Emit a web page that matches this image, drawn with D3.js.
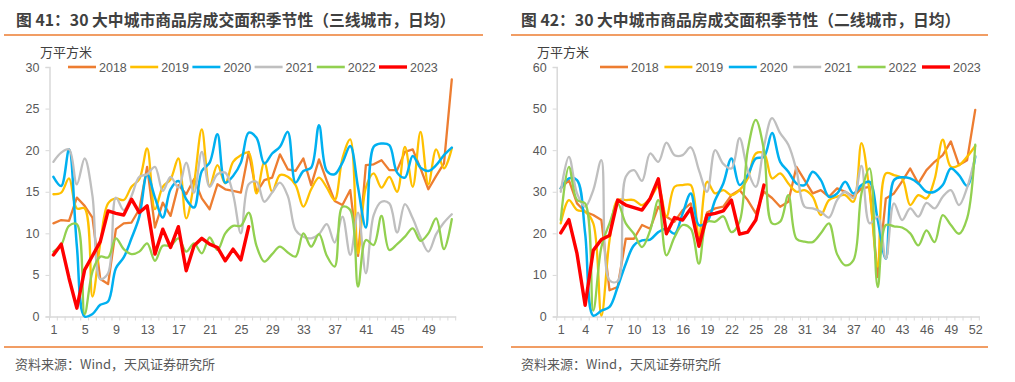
<!DOCTYPE html>
<html>
<head>
<meta charset="utf-8">
<script src="https://cdn.jsdelivr.net/npm/d3@7/dist/d3.min.js"></script>
<style>
  html, body { margin: 0; padding: 0; background: #fff; }
  svg { display: block; }
</style>
</head>
<body>
<svg id="chart" width="1015" height="382"></svg>
<script>
// ---------------- DATA ----------------
const years = ["2018", "2019", "2020", "2021", "2022", "2023"];
const weeks = d3.range(1, 53);

// Left panel: 三线城市 (万平方米, 日均)
const left2018 = [11.2, 11.6, 11.5, 14.3, 13.3, 11.9, 4.5, 3.9, 10.5, 11.2, 11.3, 12.9, 18.0, 10.7, 13.7, 12.1, 15.8, 14.7, 16.5, 14.2, 12.9, 15.9, 15.3, 15.1, 14.9, 19.8, 14.9, 16.4, 16.7, 19.5, 17.7, 17.5, 19.0, 15.8, 18.9, 16.3, 13.9, 13.4, 15.2, 7.3, 18.2, 18.3, 18.8, 17.6, 17.6, 19.8, 20.1, 17.8, 15.3, 16.9, 18.4, 28.5];
const left2019 = [14.7, 14.9, 16.6, 13.0, 13.0, 2.4, 8.8, 13.6, 14.2, 14.0, 15.6, 16.5, 20.2, 12.9, 15.6, 16.5, 19.0, 11.8, 16.0, 22.5, 15.7, 18.2, 16.0, 18.6, 19.4, 19.7, 14.8, 18.5, 15.0, 17.0, 16.8, 15.8, 13.2, 15.3, 16.7, 15.5, 14.0, 19.0, 21.3, 7.6, 15.5, 17.2, 15.5, 16.8, 15.0, 20.4, 15.6, 22.2, 15.9, 20.1, 17.8, 20.2];
const left2020 = [16.8, 15.7, 20.1, 8.5, 0.0, 0.3, 1.4, 1.8, 5.8, 7.1, 9.4, 12.0, 17.1, 14.3, 11.9, 15.3, 16.3, 14.1, 13.1, 17.5, 18.5, 21.9, 16.1, 16.9, 18.5, 22.1, 21.5, 18.4, 19.6, 20.4, 22.2, 16.1, 17.5, 17.9, 23.0, 17.5, 17.1, 18.5, 20.5, 15.5, 10.7, 20.4, 20.8, 20.6, 17.3, 16.7, 19.3, 17.9, 17.5, 18.2, 19.4, 20.3];
const left2021 = [18.6, 19.7, 20.1, 15.9, 19.0, 14.5, 4.5, 5.2, 14.3, 12.8, 14.5, 16.8, 17.1, 18.0, 15.1, 16.8, 15.5, 18.5, 14.9, 19.8, 15.6, 17.1, 17.3, 14.7, 10.0, 15.9, 16.2, 13.8, 14.9, 16.1, 14.5, 10.4, 9.6, 9.4, 9.9, 11.1, 8.9, 12.0, 7.4, 12.5, 5.2, 12.2, 13.8, 13.6, 10.1, 13.5, 11.8, 9.5, 7.8, 9.9, 11.3, 12.3];
const left2022 = [7.8, 8.6, 10.9, 11.1, 0.3, 5.4, 7.2, 7.1, 9.4, 8.1, 7.5, 7.8, 8.8, 6.7, 8.5, 8.5, 9.4, 7.8, 8.8, 7.6, 9.5, 8.0, 10.0, 10.9, 10.9, 12.5, 8.5, 6.6, 7.5, 8.4, 7.7, 7.2, 10.0, 8.4, 9.9, 7.3, 6.0, 13.2, 12.8, 3.6, 9.2, 8.6, 12.1, 8.0, 8.7, 9.6, 10.6, 9.1, 10.0, 11.8, 8.1, 11.7];
const left2023 = [7.4, 8.7, 4.6, 1.0, 5.6, 7.3, 9.0, 12.7, 12.4, 12.2, 14.1, 12.5, 13.3, 7.5, 10.5, 8.3, 10.8, 5.5, 8.5, 9.4, 8.7, 8.3, 6.7, 8.1, 6.8, 10.8];

// Right panel: 二线城市 (万平方米, 日均)
const right2018 = [30.8, 32.8, 27.2, 25.2, 24.4, 23.2, 6.3, 7.1, 18.7, 18.7, 22.0, 21.1, 26.4, 24.0, 22.8, 25.6, 27.2, 18.3, 25.0, 26.0, 26.4, 29.2, 30.4, 28.0, 24.8, 30.0, 28.5, 26.4, 27.6, 36.0, 32.8, 29.6, 30.4, 28.8, 30.8, 30.0, 28.8, 30.8, 31.2, 9.5, 28.4, 29.6, 32.5, 35.6, 32.0, 35.2, 37.2, 38.8, 42.1, 36.4, 37.6, 49.7];
const right2019 = [22.4, 28.0, 25.6, 25.2, 22.4, 0.2, 18.3, 28.0, 28.0, 28.0, 26.8, 28.4, 31.2, 24.0, 31.2, 31.6, 31.6, 19.5, 32.4, 29.6, 30.4, 29.2, 30.4, 33.2, 39.2, 39.2, 33.2, 34.4, 32.0, 30.0, 30.4, 28.8, 24.4, 28.0, 28.8, 29.2, 27.6, 41.7, 30.0, 12.0, 34.4, 34.0, 33.2, 26.8, 29.2, 28.4, 33.0, 42.5, 36.0, 36.4, 38.4, 41.0];
const right2020 = [30.8, 33.2, 32.8, 20.0, 0.2, 1.4, 2.3, 7.1, 12.7, 17.1, 18.3, 18.5, 20.3, 21.1, 19.9, 24.8, 29.6, 22.0, 22.8, 28.0, 32.0, 38.0, 31.6, 34.0, 38.0, 38.4, 44.1, 37.2, 34.8, 32.0, 31.6, 34.8, 32.8, 28.8, 29.6, 32.4, 29.6, 31.6, 32.4, 23.2, 13.9, 32.8, 33.5, 33.2, 32.0, 30.0, 30.0, 31.6, 35.6, 34.0, 31.4, 38.4];
const right2021 = [30.0, 38.4, 29.6, 26.4, 30.4, 37.6, 8.7, 8.5, 33.6, 35.2, 32.6, 39.2, 37.2, 41.8, 38.8, 38.8, 40.7, 35.2, 30.0, 40.0, 36.7, 35.6, 42.9, 35.2, 31.2, 40.9, 47.7, 44.1, 41.3, 35.2, 26.4, 26.0, 25.2, 23.8, 28.0, 30.0, 28.5, 36.2, 22.4, 24.0, 13.9, 27.2, 23.2, 26.0, 24.0, 27.3, 26.0, 28.8, 30.4, 26.8, 31.0, 38.6];
const right2022 = [23.2, 36.0, 28.0, 27.2, 1.4, 16.7, 22.4, 27.2, 22.4, 19.9, 16.7, 20.7, 28.0, 14.7, 19.1, 22.0, 21.1, 12.7, 22.8, 22.8, 24.1, 20.3, 22.8, 40.0, 47.3, 40.0, 22.4, 22.8, 29.2, 18.7, 18.0, 17.9, 20.0, 22.4, 15.0, 12.3, 13.5, 29.6, 35.6, 7.1, 22.0, 21.7, 21.4, 20.0, 17.1, 20.7, 17.9, 24.4, 22.0, 19.9, 23.6, 41.3];
const right2023 = [20.1, 23.3, 15.1, 2.7, 15.9, 18.5, 19.5, 28.0, 26.8, 26.2, 25.6, 28.4, 33.1, 19.9, 23.8, 23.2, 26.0, 16.9, 24.4, 24.8, 25.4, 28.0, 19.8, 20.3, 23.2, 31.6];

const leftTicksY = [0, 5, 10, 15, 20, 25, 30];
const rightTicksY = [0, 10, 20, 30, 40, 50, 60];
const leftTickWeeks = [1, 5, 9, 13, 17, 21, 25, 29, 33, 37, 41, 45, 49];
const rightTickWeeks = [1, 4, 7, 10, 13, 16, 19, 22, 25, 28, 31, 34, 37, 40, 43, 46, 49, 52];

const leftTitle = "图 41：30 大中城市商品房成交面积季节性（三线城市，日均）";
const rightTitle = "图 42：30 大中城市商品房成交面积季节性（二线城市，日均）";
const unitLabel = "万平方米";
const sourceText = "资料来源：Wind，天风证券研究所";

// ---------------- STYLE ----------------
const colors = {"2018": "#ED7D31", "2019": "#FFC000", "2020": "#00B0F0", "2021": "#BFBFBF", "2022": "#92D050", "2023": "#FF0000"};
const smooth = {"2018": false, "2019": true, "2020": true, "2021": true, "2022": true, "2023": false};
const widths = {"2018": 2.3, "2019": 2.3, "2020": 2.5, "2021": 2.3, "2022": 2.3, "2023": 3.4};

const svg = d3.select("#chart");
const cjk = "'Noto Sans CJK SC', 'Noto Sans', sans-serif";
const num = "'Liberation Sans', Arial, 'Noto Sans CJK SC', sans-serif";

function panel(cfg) {
  const g = svg.append("g");
  // title
  g.append("text").attr("x", cfg.titleX).attr("y", 25.5)
    .attr("font-family", cjk).attr("font-weight", "bold").attr("font-size", 15.8)
    .attr("fill", "#404040").text(cfg.title);
  g.append("line").attr("x1", cfg.ruleX0).attr("x2", cfg.ruleX1).attr("y1", 35).attr("y2", 35)
    .attr("stroke", "#ED7D31").attr("stroke-width", 1.5);
  g.append("line").attr("x1", cfg.ruleX0).attr("x2", cfg.ruleX1).attr("y1", 347).attr("y2", 347)
    .attr("stroke", "#ED7D31").attr("stroke-width", 1.5);
  g.append("text").attr("x", cfg.sourceX).attr("y", 369)
    .attr("font-family", cjk).attr("font-size", 13).attr("fill", "#595959").text(sourceText);
  g.append("text").attr("x", cfg.unitX).attr("y", 57)
    .attr("font-family", cjk).attr("font-size", 13).attr("fill", "#404040").text(unitLabel);

  const x = d3.scalePoint().domain(weeks).range([cfg.x0, cfg.x1]).padding(0.5);
  const y = d3.scaleLinear().domain([0, cfg.yMax]).range([316.5, 67]);
  const step = x.step();

  // y axis
  const yAxis = d3.axisLeft(y).tickValues(cfg.yTicks).tickSize(4).tickPadding(6);
  const ya = g.append("g").attr("transform", `translate(${cfg.x0},0)`).call(yAxis);
  ya.select(".domain").attr("stroke", "#d9d9d9").attr("stroke-width", 1.5);
  ya.selectAll(".tick line").attr("stroke", "#d9d9d9");
  ya.selectAll(".tick text").attr("font-family", num).attr("font-size", 12.5).attr("fill", "#595959");

  // x axis
  const xAxis = d3.axisBottom(x).tickValues(cfg.xTicks).tickSize(0).tickPadding(9);
  const xa = g.append("g").attr("transform", `translate(0,${y(0)})`).call(xAxis);
  xa.select(".domain").attr("stroke", "#d9d9d9").attr("stroke-width", 1.5);
  xa.selectAll(".tick text").attr("font-family", num).attr("font-size", 12.5).attr("fill", "#595959");
  // boundary tick marks
  g.append("g").selectAll("line").data(d3.range(0, weeks.length + 1)).join("line")
    .attr("x1", i => cfg.x0 + i * step).attr("x2", i => cfg.x0 + i * step)
    .attr("y1", y(0)).attr("y2", y(0) + 4)
    .attr("stroke", "#d9d9d9").attr("stroke-width", 1);

  // lines
  years.forEach(yr => {
    const vals = cfg.data[yr];
    const line = d3.line()
      .x((d, i) => x(weeks[i])).y(d => y(d))
      .curve(smooth[yr] ? d3.curveCatmullRom.alpha(0.5) : d3.curveLinear);
    g.append("path").datum(vals).attr("d", line)
      .attr("fill", "none").attr("stroke", colors[yr]).attr("stroke-width", widths[yr])
      .attr("stroke-linejoin", "round").attr("stroke-linecap", "round");
  });

  // legend
  years.forEach((yr, i) => {
    const lx = cfg.legX + i * cfg.legStep;
    g.append("line").attr("x1", lx).attr("x2", lx + 28).attr("y1", 67).attr("y2", 67)
      .attr("stroke", colors[yr]).attr("stroke-width", yr === "2023" ? 3.4 : 2.6);
    g.append("text").attr("x", lx + 31).attr("y", 71.5)
      .attr("font-family", num).attr("font-size", 12.5).attr("fill", "#595959").text(yr);
  });
}

panel({
  title: leftTitle, titleX: 16, ruleX0: 4, ruleX1: 483, sourceX: 15, unitX: 40,
  x0: 49.5, x1: 455.7, yMax: 30, yTicks: leftTicksY, xTicks: leftTickWeeks,
  legX: 68, legStep: 62.2,
  data: {"2018": left2018, "2019": left2019, "2020": left2020, "2021": left2021, "2022": left2022, "2023": left2023}
});
panel({
  title: rightTitle, titleX: 521, ruleX0: 511, ruleX1: 988, sourceX: 521, unitX: 537,
  x0: 556.7, x1: 979.3, yMax: 60, yTicks: rightTicksY, xTicks: rightTickWeeks,
  legX: 600, legStep: 64.4,
  data: {"2018": right2018, "2019": right2019, "2020": right2020, "2021": right2021, "2022": right2022, "2023": right2023}
});
</script>
</body>
</html>
